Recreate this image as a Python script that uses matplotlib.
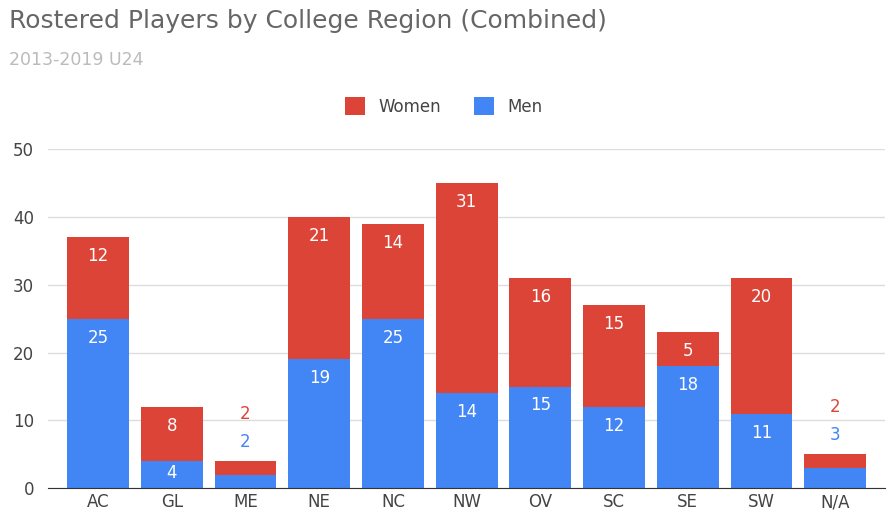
import matplotlib
matplotlib.use("Agg")
import matplotlib.pyplot as plt
import numpy as np

regions = ["AC", "GL", "ME", "NE", "NC", "NW", "OV", "SC", "SE", "SW", "N/A"]
men = [25, 4, 2, 19, 25, 14, 15, 12, 18, 11, 3]
women = [12, 8, 2, 21, 14, 31, 16, 15, 5, 20, 2]

RED = "#db4437"
BLUE = "#4285f4"

fig = plt.figure(figsize=(8.88, 5.25), dpi=100)
ax = fig.add_axes([0.054, 0.07, 0.943, 0.646])
x = np.arange(len(regions))
ax.bar(x, men, width=0.84, color=BLUE, label="Men", zorder=2)
ax.bar(x, women, width=0.84, bottom=men, color=RED, label="Women", zorder=2)

for i, (m, w) in enumerate(zip(men, women)):
    if m + w < 8:
        # tiny stacks: labels above the bar
        ax.text(i, m + w + 7, str(w), color=RED, ha="center", va="center", fontsize=12)
        ax.text(i, m + w + 2.8, str(m), color=BLUE, ha="center", va="center", fontsize=12)
        continue
    ax.text(i, m + w - 2.8 if w >= 5 else m + w / 2, str(w), color="white" if w >= 5 else RED,
            ha="center", va="center", fontsize=12)
    if i == 1:
        ax.text(i, m + w - 0.8, "", fontsize=1)
    ax.text(i, m - 2.8 if m >= 5 else m / 2 + 0.3, str(m), color="white",
            ha="center", va="center", fontsize=12)

ax.set_xlim(-0.68, len(regions) - 0.32)
ax.set_ylim(0, 50)
ax.set_yticks([0, 10, 20, 30, 40, 50])
ax.yaxis.grid(True, color="#dddddd", lw=1, zorder=0)
for s in ["top", "right", "left"]:
    ax.spines[s].set_visible(False)
ax.spines["bottom"].set_color("#333333")
ax.tick_params(axis="both", length=0, labelsize=12, colors="#444444")
ax.tick_params(axis="y", pad=10)
ax.set_xticks(x)
ax.set_xticklabels(regions)

handles, labels = ax.get_legend_handles_labels()
fig.legend(handles[::-1], labels[::-1], loc="center", bbox_to_anchor=(0.5, 0.797),
           ncol=2, frameon=False, fontsize=12, handlelength=1.2, handleheight=1.2,
           columnspacing=2, labelcolor="#444444")

fig.text(0.01, 0.96, "Rostered Players by College Region (Combined)", fontsize=18,
         color="#666666", va="center")
fig.text(0.01, 0.885, "2013-2019 U24", fontsize=12.5, color="#bbbbbb", va="center")

fig.savefig("out.png", dpi=100)
